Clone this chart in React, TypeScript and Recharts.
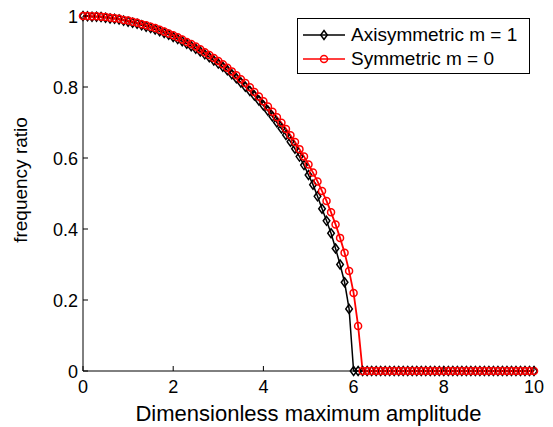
import { LineChart, Line, XAxis, YAxis, Legend } from 'recharts';

// amplitude grid, step 0.1
const amplitude = [
    0, 0.1, 0.2, 0.3, 0.4, 0.5, 0.6, 0.7, 0.8, 0.9,
    1, 1.1, 1.2, 1.3, 1.4, 1.5, 1.6, 1.7, 1.8, 1.9,
    2, 2.1, 2.2, 2.3, 2.4, 2.5, 2.6, 2.7, 2.8, 2.9,
    3, 3.1, 3.2, 3.3, 3.4, 3.5, 3.6, 3.7, 3.8, 3.9,
    4, 4.1, 4.2, 4.3, 4.4, 4.5, 4.6, 4.7, 4.8, 4.9,
    5, 5.1, 5.2, 5.3, 5.4, 5.5, 5.6, 5.7, 5.8, 5.9,
    6, 6.1, 6.2, 6.3, 6.4, 6.5, 6.6, 6.7, 6.8, 6.9,
    7, 7.1, 7.2, 7.3, 7.4, 7.5, 7.6, 7.7, 7.8, 7.9,
    8, 8.1, 8.2, 8.3, 8.4, 8.5, 8.6, 8.7, 8.8, 8.9,
    9, 9.1, 9.2, 9.3, 9.4, 9.5, 9.6, 9.7, 9.8, 9.9,
    10
];

// Axisymmetric mode, m = 1
const axisymmetric = [
    1.000, 0.999, 0.998, 0.998, 0.997, 0.995, 0.993, 0.992, 0.990, 0.987,
    0.984, 0.981, 0.978, 0.974, 0.970, 0.966, 0.962, 0.957, 0.952, 0.947,
    0.941, 0.935, 0.929, 0.922, 0.915, 0.908, 0.900, 0.892, 0.884, 0.875,
    0.866, 0.857, 0.847, 0.836, 0.825, 0.813, 0.801, 0.789, 0.776, 0.762,
    0.748, 0.733, 0.717, 0.700, 0.683, 0.665, 0.646, 0.626, 0.604, 0.580,
    0.552, 0.525, 0.492, 0.457, 0.423, 0.388, 0.345, 0.300, 0.250, 0.175,
    0, 0, 0, 0, 0, 0, 0, 0, 0, 0,
    0, 0, 0, 0, 0, 0, 0, 0, 0, 0,
    0, 0, 0, 0, 0, 0, 0, 0, 0, 0,
    0, 0, 0, 0, 0, 0, 0, 0, 0, 0,
    0
];

// Symmetric mode, m = 0
const symmetric = [
    1.000, 1.000, 0.999, 0.999, 0.998, 0.997, 0.995, 0.994, 0.992, 0.989,
    0.987, 0.984, 0.981, 0.977, 0.974, 0.970, 0.966, 0.961, 0.956, 0.951,
    0.946, 0.940, 0.934, 0.927, 0.921, 0.914, 0.906, 0.898, 0.890, 0.882,
    0.873, 0.864, 0.854, 0.844, 0.833, 0.822, 0.811, 0.799, 0.786, 0.773,
    0.760, 0.745, 0.730, 0.715, 0.699, 0.682, 0.664, 0.645, 0.625, 0.604,
    0.582, 0.559, 0.534, 0.507, 0.479, 0.447, 0.413, 0.375, 0.333, 0.282,
    0.220, 0.127, 0, 0, 0, 0, 0, 0, 0, 0,
    0, 0, 0, 0, 0, 0, 0, 0, 0, 0,
    0, 0, 0, 0, 0, 0, 0, 0, 0, 0,
    0, 0, 0, 0, 0, 0, 0, 0, 0, 0,
    0
];

const xTicks = [0, 2, 4, 6, 8, 10];
const yTicks = [0, 0.2, 0.4, 0.6, 0.8, 1];

const data = amplitude.map((a, i) => ({ a, axi: axisymmetric[i], sym: symmetric[i] }));

const FONT = '"Liberation Sans", Arial, sans-serif';

const Diamond = ({ cx, cy, stroke }) => (
    <polygon
        points={`${cx},${cy - 4.5} ${cx + 3.3},${cy} ${cx},${cy + 4.5} ${cx - 3.3},${cy}`}
        fill="none" stroke={stroke} strokeWidth={1.5}
    />
);

const Circle = ({ cx, cy, stroke }) => (
    <circle cx={cx} cy={cy} r={3.5} fill="none" stroke={stroke} strokeWidth={1.5} />
);

// MATLAB-style ticks: short marks pointing into the box
const BottomTick = ({ x, y, payload }) => (
    <g>
        <line x1={x} x2={x} y1={y} y2={y - 5} stroke="#000" />
        <text x={x} y={y + 22} textAnchor="middle" fontSize={18} fontFamily={FONT} fill="#000">
            {payload.value}
        </text>
    </g>
);
const TopTick = ({ x, y }) => <line x1={x} x2={x} y1={y} y2={y + 5} stroke="#000" />;
const LeftTick = ({ x, y, payload }) => (
    <g>
        <line x1={x} x2={x + 5} y1={y} y2={y} stroke="#000" />
        <text x={x - 5} y={y + 6.5} textAnchor="end" fontSize={18} fontFamily={FONT} fill="#000">
            {payload.value}
        </text>
    </g>
);
const RightTick = ({ x, y }) => <line x1={x} x2={x - 5} y1={y} y2={y} stroke="#000" />;

const legendRows = [
    { label: 'Axisymmetric m = 1', color: '#000', marker: 'diamond' },
    { label: 'Symmetric m = 0', color: '#ff0000', marker: 'circle' },
];

const LegendBox = () => (
    <div style={{
        border: '1px solid #000', background: '#fff', boxSizing: 'border-box',
        width: 233, height: 56, padding: '4px 0 0 5px', fontFamily: FONT, fontSize: 19,
    }}>
        {legendRows.map(r => (
            <div key={r.label} style={{ display: 'flex', alignItems: 'center', height: 24 }}>
                <svg width={44} height={12} style={{ marginRight: 4 }}>
                    <line x1={0} x2={42} y1={6} y2={6} stroke={r.color} strokeWidth={1.5} />
                    {r.marker === 'diamond'
                        ? <Diamond cx={21} cy={6} stroke={r.color} />
                        : <Circle cx={21} cy={6} stroke={r.color} />}
                </svg>
                <span style={{ color: '#000', whiteSpace: 'nowrap' }}>{r.label}</span>
            </div>
        ))}
    </div>
);

const App = () => {
    return (
        <div style={{ width: 553, height: 427, background: '#fff' }}>
            <style>{'body{margin:0}'}</style>
            <LineChart width={553} height={427} data={data}
                       margin={{ top: 16, right: 19, left: 0, bottom: 0 }}>
                <XAxis dataKey="a" type="number" domain={[0, 10]} ticks={xTicks}
                       height={56} tickSize={0} tickMargin={0} tickLine={false}
                       axisLine={{ stroke: '#000' }} tick={BottomTick}
                       label={{
                           content: () => (
                               <text x={308.5} y={421} textAnchor="middle" fontSize={22}
                                     fontFamily={FONT} fill="#000">
                                   Dimensionless maximum amplitude
                               </text>
                           )
                       }} />
                <XAxis xAxisId="top" orientation="top" dataKey="a" type="number" domain={[0, 10]}
                       ticks={xTicks} height={0} tickSize={0} tickMargin={0} tickLine={false}
                       axisLine={{ stroke: '#000' }} tick={TopTick} />
                <YAxis type="number" domain={[0, 1]} ticks={yTicks} width={83}
                       tickSize={0} tickMargin={0} tickLine={false}
                       axisLine={{ stroke: '#000' }} tick={LeftTick}
                       label={{
                           content: () => (
                               <text x={27} y={180} transform="rotate(-90 27 180)" textAnchor="middle"
                                     fontSize={19} fontFamily={FONT} fill="#000">
                                   frequency ratio
                               </text>
                           )
                       }} />
                <YAxis yAxisId="right" orientation="right" type="number" domain={[0, 1]} ticks={yTicks}
                       width={0} tickSize={0} tickMargin={0} tickLine={false}
                       axisLine={{ stroke: '#000' }} tick={RightTick} />
                <Legend layout="vertical" align="center" verticalAlign="middle"
                        wrapperStyle={{ top: 18, left: 297, width: 233, height: 56 }}
                        content={() => <LegendBox />} />
                <Line dataKey="axi" name="Axisymmetric m = 1" stroke="#000" strokeWidth={1.5}
                      dot={(p) => <Diamond key={p.index} cx={p.cx} cy={p.cy} stroke="#000" />}
                      isAnimationActive={false} />
                <Line dataKey="sym" name="Symmetric m = 0" stroke="#ff0000" strokeWidth={1.8}
                      dot={(p) => <Circle key={p.index} cx={p.cx} cy={p.cy} stroke="#ff0000" />}
                      isAnimationActive={false} />
            </LineChart>
        </div>
    );
};

export default App;
